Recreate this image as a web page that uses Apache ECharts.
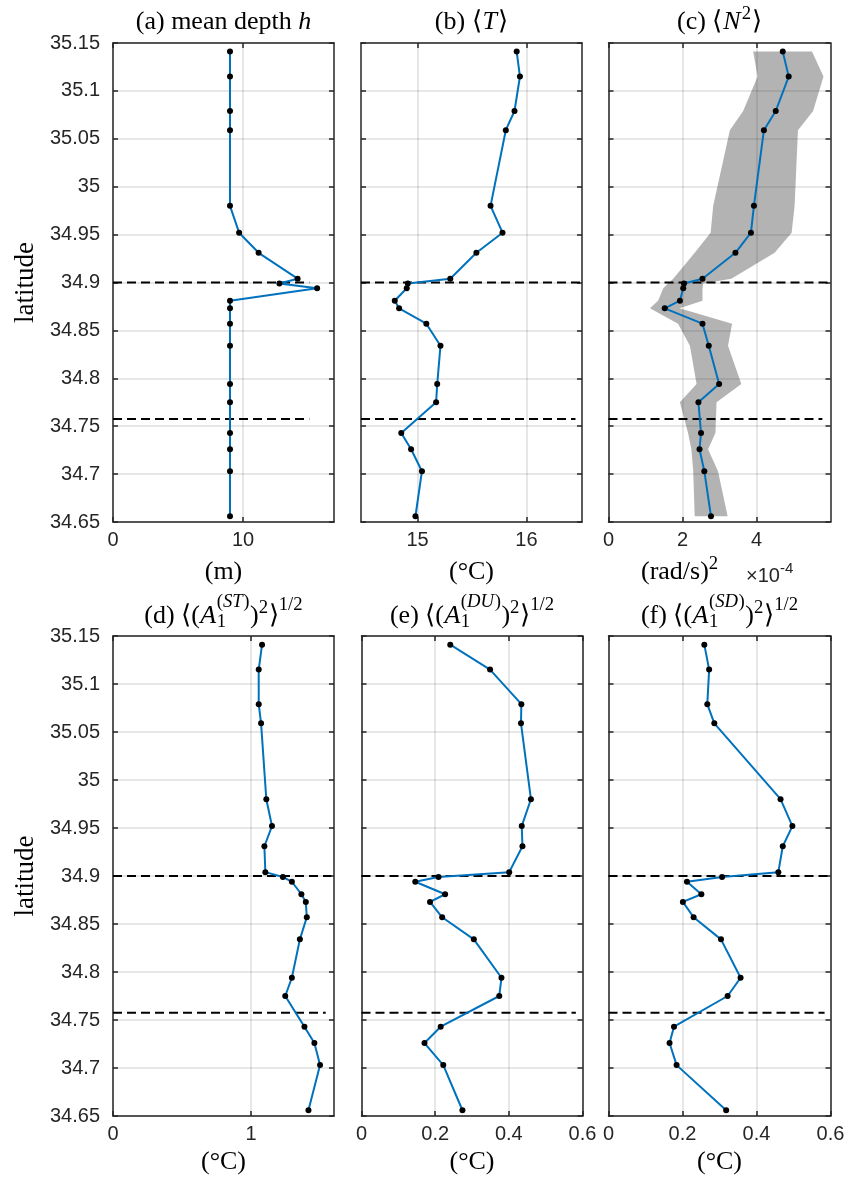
<!DOCTYPE html>
<html>
<head>
<meta charset="utf-8">
<script src="https://cdn.jsdelivr.net/npm/echarts@6/dist/echarts.min.js"></script>
<style>
  html, body { margin: 0; padding: 0; background: #fff; }
  #chart { width: 851px; height: 1177px; }
</style>
</head>
<body>
<div id="chart"></div>
<script>
// Section latitudes shared by every profile
const LAT = [35.141, 35.115, 35.079, 35.059, 34.980, 34.952, 34.931, 34.904, 34.899, 34.894,
             34.881, 34.873, 34.857, 34.834, 34.794, 34.775, 34.743, 34.726, 34.703, 34.656];
const LAT_TICKS = [34.65, 34.7, 34.75, 34.8, 34.85, 34.9, 34.95, 35, 35.05, 35.1, 35.15];

// (a) mean depth h (m)
const DEPTH = [9.0, 9.0, 9.0, 9.0, 9.0, 9.7, 11.2, 14.2, 12.8, 15.7,
               9.0, 9.0, 9.0, 9.0, 9.0, 9.0, 9.0, 9.0, 9.0, 9.0];
// (b) mean temperature (°C)
const TEMP = [15.91, 15.94, 15.89, 15.81, 15.67, 15.78, 15.54, 15.30, 14.91, 14.90,
              14.79, 14.83, 15.08, 15.21, 15.18, 15.17, 14.85, 14.94, 15.04, 14.98];
// (c) mean N^2 (x1e-4 (rad/s)^2) with its spread
const N2 = [4.71, 4.87, 4.52, 4.20, 3.93, 3.85, 3.43, 2.54, 2.04, 2.02,
            1.93, 1.52, 2.54, 2.71, 2.99, 2.43, 2.50, 2.46, 2.59, 2.77];
const N2_LO = [3.91, 4.03, 3.64, 3.28, 2.83, 2.76, 2.33, 1.75, 1.61, 1.48,
               1.34, 1.12, 1.88, 2.20, 2.38, 1.93, 2.15, 2.24, 2.29, 2.33];
const N2_HI = [5.50, 5.81, 5.53, 5.12, 5.03, 4.95, 4.49, 3.32, 2.56, 2.54,
               2.54, 1.92, 3.34, 3.23, 3.59, 2.92, 2.89, 2.69, 2.96, 3.22];
// (d)-(f) rms mode-1 amplitudes (°C)
const A_ST = [1.079, 1.055, 1.055, 1.072, 1.110, 1.151, 1.096, 1.103, 1.230, 1.295,
              1.364, 1.396, 1.403, 1.353, 1.295, 1.247, 1.386, 1.458, 1.499, 1.415];
const A_DU = [0.241, 0.349, 0.434, 0.433, 0.460, 0.435, 0.437, 0.401, 0.209, 0.146,
              0.227, 0.186, 0.219, 0.305, 0.380, 0.374, 0.215, 0.171, 0.222, 0.274];
const A_SD = [0.259, 0.272, 0.267, 0.286, 0.465, 0.497, 0.471, 0.459, 0.307, 0.212,
              0.251, 0.201, 0.230, 0.304, 0.357, 0.322, 0.177, 0.165, 0.184, 0.318];

// Reference latitudes marked with dashed lines, and how far each line runs in each panel
const DASH_LAT = [34.9, 34.7575];
const DASH_END = [[15.1, 15.1], [16.51, 16.45], [6, 5.78], [1.58, 1.54], [0.594, 0.582], [0.592, 0.584]];

// Axis tick values per panel
const TICKS_A = [0, 10];
const TICKS_B = [15, 16];
const TICKS_C = [0, 2, 4];
const TICKS_D = [0, 1];
const TICKS_E = [0, 0.2, 0.4, 0.6];
const TICKS_F = [0, 0.2, 0.4, 0.6];

const SANS = "'Liberation Sans', Arial, sans-serif";
const SERIF_NAME = "'Liberation Serif'";
const SERIF = SERIF_NAME + ", 'DejaVu Serif', serif";
const AX = '#262626';
const GRID = 'rgba(38,38,38,0.15)';
const BLUE = '#0072BD';
const TICK_FS = 20;

const panels = [
  { vals: DEPTH, min: 0, max: 17, ticks: TICKS_A, left: 113, top: 43, width: 221, height: 479, ylab: true },
  { vals: TEMP, min: 14.48, max: 16.51, ticks: TICKS_B, left: 361, top: 43, width: 221, height: 479, ylab: false },
  { vals: N2, min: 0, max: 6, ticks: TICKS_C, left: 608.5, top: 43, width: 222, height: 479, ylab: false, band: true },
  { vals: A_ST, min: 0, max: 1.6, ticks: TICKS_D, left: 113, top: 636, width: 221, height: 480, ylab: true },
  { vals: A_DU, min: 0, max: 0.6, ticks: TICKS_E, left: 361.5, top: 636, width: 221, height: 480, ylab: false },
  { vals: A_SD, min: 0, max: 0.6, ticks: TICKS_F, left: 608.5, top: 636, width: 222, height: 480, ylab: false }
];

const fmt = v => String(parseFloat(Number(v).toFixed(2)));

const grid = [], xAxis = [], yAxis = [], series = [];
panels.forEach((p, g) => {
  grid.push({ left: p.left, top: p.top, width: p.width, height: p.height, outerBoundsMode: 'none' });
  const tickStyle = { color: AX, width: 1.5 };
  // bottom / left axes carry the labels and grid lines
  xAxis.push({
    type: 'value', gridIndex: g, min: p.min, max: p.max, position: 'bottom', z: 1,
    axisLine: { show: true, onZero: false, lineStyle: tickStyle },
    axisTick: { show: true, inside: true, length: 5, customValues: p.ticks, lineStyle: tickStyle },
    axisLabel: { show: true, customValues: p.ticks, margin: 8, fontFamily: SANS, fontSize: TICK_FS, color: AX, formatter: fmt },
    splitLine: { show: true, lineStyle: { color: GRID, width: 1.5 } }
  });
  // top axis closes the box with mirrored ticks
  xAxis.push({
    type: 'value', gridIndex: g, min: p.min, max: p.max, position: 'top', z: 1,
    axisLine: { show: true, onZero: false, lineStyle: tickStyle },
    axisTick: { show: true, inside: true, length: 5, customValues: p.ticks, lineStyle: tickStyle },
    axisLabel: { show: false },
    splitLine: { show: false }
  });
  yAxis.push({
    type: 'value', gridIndex: g, min: 34.65, max: 35.15, position: 'left', z: 1,
    axisLine: { show: true, onZero: false, lineStyle: tickStyle },
    axisTick: { show: true, inside: true, length: 5, customValues: LAT_TICKS, lineStyle: tickStyle },
    axisLabel: { show: p.ylab, customValues: LAT_TICKS, margin: 13, fontFamily: SANS, fontSize: TICK_FS, color: AX, formatter: fmt },
    splitLine: { show: true, lineStyle: { color: GRID, width: 1.5 } }
  });
  yAxis.push({
    type: 'value', gridIndex: g, min: 34.65, max: 35.15, position: 'right', z: 1,
    axisLine: { show: true, onZero: false, lineStyle: tickStyle },
    axisTick: { show: true, inside: true, length: 5, customValues: LAT_TICKS, lineStyle: tickStyle },
    axisLabel: { show: false },
    splitLine: { show: false }
  });

  const xi = 2 * g, yi = 2 * g;

  if (p.band) {
    // shaded spread of N^2 drawn as one polygon
    series.push({
      type: 'custom', xAxisIndex: xi, yAxisIndex: yi, z: 0, silent: true,
      data: LAT.map((lat, i) => [N2_LO[i], N2_HI[i], lat]),
      encode: { x: [0, 1], y: 2 },
      renderItem: (params, api) => {
        if (params.dataIndex !== 0) return null;
        const pts = [];
        for (let i = 0; i < LAT.length; i++) pts.push(api.coord([N2_HI[i], LAT[i]]));
        for (let i = LAT.length - 1; i >= 0; i--) pts.push(api.coord([N2_LO[i], LAT[i]]));
        return { type: 'polygon', shape: { points: pts }, style: { fill: '#b3b3b3' } };
      }
    });
  }

  DASH_LAT.forEach((lat, k) => {
    series.push({
      type: 'line', xAxisIndex: xi, yAxisIndex: yi, z: 2, silent: true,
      symbol: 'none',
      lineStyle: { color: '#000', width: 2, type: [9, 5] },
      data: [[p.min, lat], [DASH_END[g][k], lat]]
    });
  });

  series.push({
    type: 'line', xAxisIndex: xi, yAxisIndex: yi, z: 3, silent: true,
    symbol: 'circle', symbolSize: 6, showSymbol: true,
    itemStyle: { color: '#000' },
    lineStyle: { color: BLUE, width: 2 },
    data: p.vals.map((v, i) => [v, LAT[i]])
  });
});

// ---- text with sub/superscripts laid out as runs of graphic text ----
const measureCtx = document.createElement('canvas').getContext('2d');
function runs(list, anchorX, baseY, size, family, align, fill) {
  const items = [];
  let x = 0;
  list.forEach(r => {
    const s = size * (r.sc || 1);
    const font = (r.it ? 'italic ' : '') + s + 'px ' + family;
    measureCtx.font = font;
    const w = measureCtx.measureText(r.t).width;
    items.push({ t: r.t, font, s, x, dy: (r.dy || 0) * size });
    if (!r.na) x += w + (r.gap || 0) * size;
  });
  const start = align === 'center' ? anchorX - x / 2 : anchorX;
  return items.map(it => ({
    type: 'text', silent: true, x: start + it.x, y: baseY - it.dy - 0.32 * it.s,
    style: { text: it.t, font: it.font, fill: fill || '#000', align: 'left', verticalAlign: 'middle' }
  }));
}

const TS = 26;   // titles
const US = 26;   // axis unit labels
const cx = p => p.left + p.width / 2;
const SUP = 0.37, SC = 0.72;
const graphic = [].concat(
  runs([{ t: '(a) mean depth ' }, { t: 'h', it: 1 }], cx(panels[0]), 30, TS, SERIF_NAME, 'center'),
  runs([{ t: '(b) \u27E8', gap: 0.03 }, { t: 'T', it: 1, gap: 0.05 }, { t: '\u27E9' }], cx(panels[1]), 30, TS, SERIF_NAME, 'center'),
  runs([{ t: '(c) \u27E8', gap: 0.03 }, { t: 'N', it: 1, gap: 0.05 }, { t: '2', sc: SC, dy: SUP, gap: 0.03 }, { t: '\u27E9' }], cx(panels[2]), 30, TS, SERIF_NAME, 'center'),
  ...[['(d) ', 'ST', 3], ['(e) ', 'DU', 4], ['(f) ', 'SD', 5]].map(([lab, sup, k]) =>
    runs([
      { t: lab + '\u27E8(', gap: 0.02 }, { t: 'A', it: 1, gap: 0.02 },
      { t: '1', sc: SC, dy: -0.17, na: 1 },
      { t: '(', sc: SC, dy: 0.62 }, { t: sup, sc: SC, dy: 0.62, it: 1, gap: 0.02 }, { t: ')', sc: SC, dy: 0.62, gap: 0.02 },
      { t: ')' }, { t: '2', sc: SC, dy: SUP, gap: 0.03 }, { t: '\u27E9' }, { t: '1/2', sc: SC, dy: 0.5 }
    ], cx(panels[k]), 624, TS, SERIF_NAME, 'center')),
  // axis units
  runs([{ t: '(m)' }], cx(panels[0]), 580, US, SERIF_NAME, 'center'),
  runs([{ t: '(\u00B0C)' }], cx(panels[1]), 580, US, SERIF_NAME, 'center'),
  runs([{ t: '(rad/s)' }, { t: '2', sc: SC, dy: SUP }], 641, 580, US, SERIF_NAME, 'left'),
  runs([{ t: '\u00D710' }, { t: '-4', sc: 0.75, dy: 0.45 }], 746, 583, 20, "'Liberation Sans'", 'left', AX),
  runs([{ t: '(\u00B0C)' }], cx(panels[3]), 1170, US, SERIF_NAME, 'center'),
  runs([{ t: '(\u00B0C)' }], cx(panels[4]), 1170, US, SERIF_NAME, 'center'),
  runs([{ t: '(\u00B0C)' }], cx(panels[5]), 1170, US, SERIF_NAME, 'center'),
  // latitude labels on the left column
  [43 + 479 / 2, 636 + 480 / 2].map(yc => ({
    type: 'text', silent: true, x: 26, y: yc, rotation: Math.PI / 2,
    style: { text: 'latitude', font: '27px ' + SERIF, fill: '#000', align: 'center', verticalAlign: 'middle' }
  }))
);

const chart = echarts.init(document.getElementById('chart'), null, { renderer: 'canvas' });
chart.setOption({
  backgroundColor: '#fff',
  animation: false,
  grid, xAxis, yAxis, series, graphic
});
</script>
</body>
</html>
